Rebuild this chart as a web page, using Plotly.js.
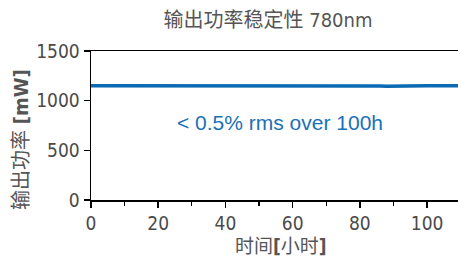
<!DOCTYPE html>
<html>
<head>
<meta charset="utf-8">
<script src="https://cdn.plot.ly/plotly-3.0.1.min.js"></script>
<style>html,body{margin:0;padding:0;background:#fff;}#chart{width:458px;height:258px;}</style>
</head>
<body>
<div id="chart"></div>
<script>
const chartTitle = "输出功率稳定性 780nm";
const xTitle = "时间<b>[</b>小时<b>]</b>";
const yTitle = "输出功率 <b>[mW]</b>";
const note = "&lt; 0.5% rms over 100h";

const hours = [0,2,4,6,8,10,12,14,16,18,20,22,24,26,28,30,32,34,
  36,38,40,42,44,46,48,50,52,54,
  56,58,60,62,64,66,68,70,72,74,76,78,80,82,84,86,88,90,92,94,96,98,
  100,102,104,106,108,110];
const powerMW = [1150,1150,1150,1150,1150,1150,1150,1150,1150,1150,1150,1150,1150,1150,1150,1150,1150,1150,
  1151,1153,1152,1154,1153,1155,1154,1156,1155,1152,
  1149,1150,1148,1150,1149,1150,1148,1149,1150,1148,1149,1150,1149,1150,1148,1147,1145,1147,1144,1146,1149,1150,
  1150,1150,1150,1150,1150,1150];

const xTicks = [0,20,40,60,80,100];
const yTicks = [0,500,1000,1500];

const numFont = {family: "'Liberation Sans Narrow', 'DejaVu Sans Condensed', 'Liberation Sans', sans-serif", size: 19, color: "#4a4a4a"};
const cjkFont = {family: "'DejaVu Sans Condensed', 'Noto Sans CJK SC', sans-serif", size: 20, color: "#555555"};
const axisTitleFont = {family: "'DejaVu Sans Condensed', 'Noto Sans CJK SC', sans-serif", size: 19, color: "#555555"};

const trace = {
  x: hours, y: powerMW, type: "scatter", mode: "lines",
  line: {color: "#0a6ab4", width: 3.6}, hoverinfo: "skip"
};

const layout = {
  width: 458, height: 258,
  margin: {l: 91, r: 0, t: 51, b: 58},
  paper_bgcolor: "#ffffff", plot_bgcolor: "#ffffff",
  showlegend: false,
  title: {text: chartTitle, font: cjkFont, x: 268/458, xref: "container", xanchor: "center",
          y: 1 - 20/258, yref: "container", yanchor: "middle"},
  xaxis: {
    range: [0, 109.2], tickvals: xTicks, ticktext: xTicks.map(String),
    showgrid: false, zeroline: false, showline: true, linecolor: "#000", linewidth: 1.5, mirror: true,
    ticks: "outside", ticklen: 6, tickwidth: 1.5, tickcolor: "#000",
    minor: {dtick: 10, ticks: "outside", ticklen: 4, tickwidth: 1.2, tickcolor: "#000", showgrid: false},
    tickfont: numFont, fixedrange: true
  },
  yaxis: {
    range: [0, 1500], tickvals: yTicks, ticktext: yTicks.map(String),
    showgrid: false, zeroline: false, showline: true, linecolor: "#000", linewidth: 1.5,
    ticks: "outside", ticklen: 6, tickwidth: 1.5, tickcolor: "#000",
    tickfont: numFont, fixedrange: true, ticklabelstandoff: 0
  },
  annotations: [
    {text: yTitle, xref: "paper", yref: "paper", x: (21-91)/367, y: (200-140)/149, xanchor: "center", yanchor: "middle",
     textangle: -90, showarrow: false, font: {family: axisTitleFont.family, size: 20, color: "#555555"}},
    {text: xTitle, xref: "paper", yref: "paper", x: (281-91)/367, y: (200-246)/149, xanchor: "center", yanchor: "middle",
     showarrow: false, font: axisTitleFont},
    {text: note, xref: "paper", yref: "paper", x: (279.5-91)/367, y: (200-122)/149, xanchor: "center", yanchor: "middle",
     showarrow: false, font: {family: "'Liberation Sans', Arial, sans-serif", size: 21, color: "#1a70b8"}}
  ]
};

Plotly.newPlot("chart", [trace], layout, {staticPlot: true, displayModeBar: false});
</script>
</body>
</html>
